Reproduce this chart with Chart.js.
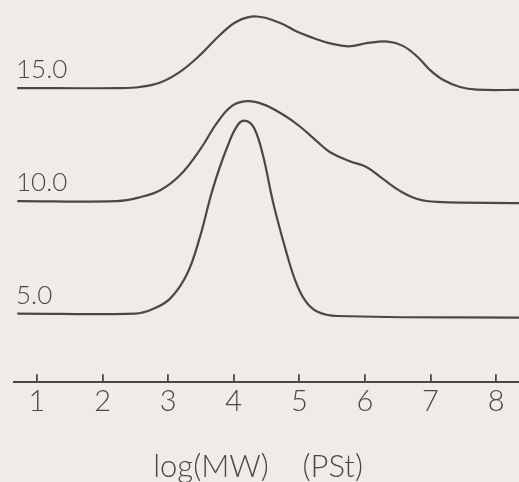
<!DOCTYPE html>
<html>
<head>
<meta charset="utf-8">
<script src="https://cdn.jsdelivr.net/npm/chart.js@4"></script>
<style>
  html, body { margin: 0; padding: 0; background: #efece8; }
  #wrap { width: 519px; height: 482px; position: relative; }
</style>
</head>
<body>
<div id="wrap"><canvas id="c"></canvas></div>
<script>
// x axis tick values / labels
const xTicks = [1, 2, 3, 4, 5, 6, 7, 8];
const xTitle = "log(MW)    (PSt)  ";
// curve baseline labels
const curveLevels = [5, 10, 15];
const curveLabels = ["5.0", "10.0", "15.0"];

// curve "15.0"
const s15x = [0.70, 2.27, 2.57, 2.88, 3.18, 3.49, 3.79, 4.05, 4.35, 4.71, 4.97, 5.21, 5.47, 5.75, 6.05, 6.35, 6.58, 6.80, 6.99, 7.19, 7.45, 7.71, 8.35];
const s15y = [15.02, 15.02, 15.07, 15.27, 15.74, 16.49, 17.37, 17.97, 18.19, 17.90, 17.51, 17.24, 17.00, 16.87, 17.02, 17.08, 16.89, 16.41, 15.83, 15.39, 15.07, 14.95, 14.94];
// curve "10.0"
const s10x = [0.70, 2.22, 2.57, 2.88, 3.18, 3.49, 3.75, 3.97, 4.20, 4.45, 4.75, 5.01, 5.27, 5.47, 5.77, 6.03, 6.28, 6.54, 6.80, 7.10, 8.35];
const s10y = [10.02, 10.02, 10.19, 10.50, 11.16, 12.31, 13.50, 14.22, 14.44, 14.30, 13.85, 13.32, 12.66, 12.18, 11.78, 11.52, 10.99, 10.46, 10.11, 9.98, 9.93];
// curve "5.0"
const s5x = [0.70, 2.50, 2.75, 3.03, 3.29, 3.49, 3.68, 3.90, 4.07, 4.20, 4.32, 4.45, 4.60, 4.78, 4.94, 5.09, 5.27, 5.58, 8.35];
const s5y = [5.04, 5.04, 5.22, 5.70, 6.80, 8.48, 10.55, 12.40, 13.42, 13.56, 13.20, 12.00, 9.97, 7.99, 6.49, 5.61, 5.13, 4.93, 4.86];

function pts(xs, ys) { return xs.map((x, i) => ({ x: x, y: ys[i] })); }

const ink = '#4a4846';
const lineStyle = {
  borderColor: ink, borderWidth: 2.2, pointRadius: 0, fill: false, tension: 0.4
};

new Chart(document.getElementById('c'), {
  type: 'line',
  data: {
    datasets: [
      Object.assign({ label: '15.0', data: pts(s15x, s15y) }, lineStyle),
      Object.assign({ label: '10.0', data: pts(s10x, s10y) }, lineStyle),
      Object.assign({ label: '5.0', data: pts(s5x, s5y) }, lineStyle)
    ]
  },
  options: {
    responsive: true,
    maintainAspectRatio: false,
    animation: false,
    layout: { padding: { left: 14, right: 0, top: 0, bottom: 0 } },
    plugins: { legend: { display: false }, tooltip: { enabled: false } },
    scales: {
      x: {
        type: 'linear',
        min: 0.65, max: 8.35,
        afterBuildTicks: (s) => { s.ticks = xTicks.map(v => ({ value: v })); },
        afterFit: (s) => { s.paddingLeft = 0; s.paddingRight = 0; },
        grid: { display: true, drawOnChartArea: false, drawTicks: true, tickLength: -8, color: ink, lineWidth: 1.8 },
        border: { display: true, color: ink, width: 2 },
        ticks: {
          padding: 10, color: ink, maxRotation: 0, autoSkip: false,
          font: { family: 'Lato', weight: 300, size: 29 },
          callback: (v) => String(v)
        },
        title: {
          display: true, text: xTitle, color: ink,
          font: { family: 'Lato', weight: 300, size: 31, lineHeight: 1 },
          padding: { top: 22, bottom: 0 }
        }
      },
      y: {
        type: 'linear',
        position: 'left',
        min: 2, max: 18.92,
        afterBuildTicks: (s) => { s.ticks = curveLevels.map(v => ({ value: v })); },
        afterFit: (s) => { s.width = 0; s.paddingTop = 0; s.paddingBottom = 0; },
        grid: { display: false, drawTicks: false },
        border: { display: false },
        ticks: {
          mirror: true, padding: 2, labelOffset: -19, color: ink,
          font: { family: 'Lato', weight: 300, size: 26 },
          callback: (v) => curveLabels[curveLevels.indexOf(v)]
        }
      }
    }
  }
});
</script>
</body>
</html>
